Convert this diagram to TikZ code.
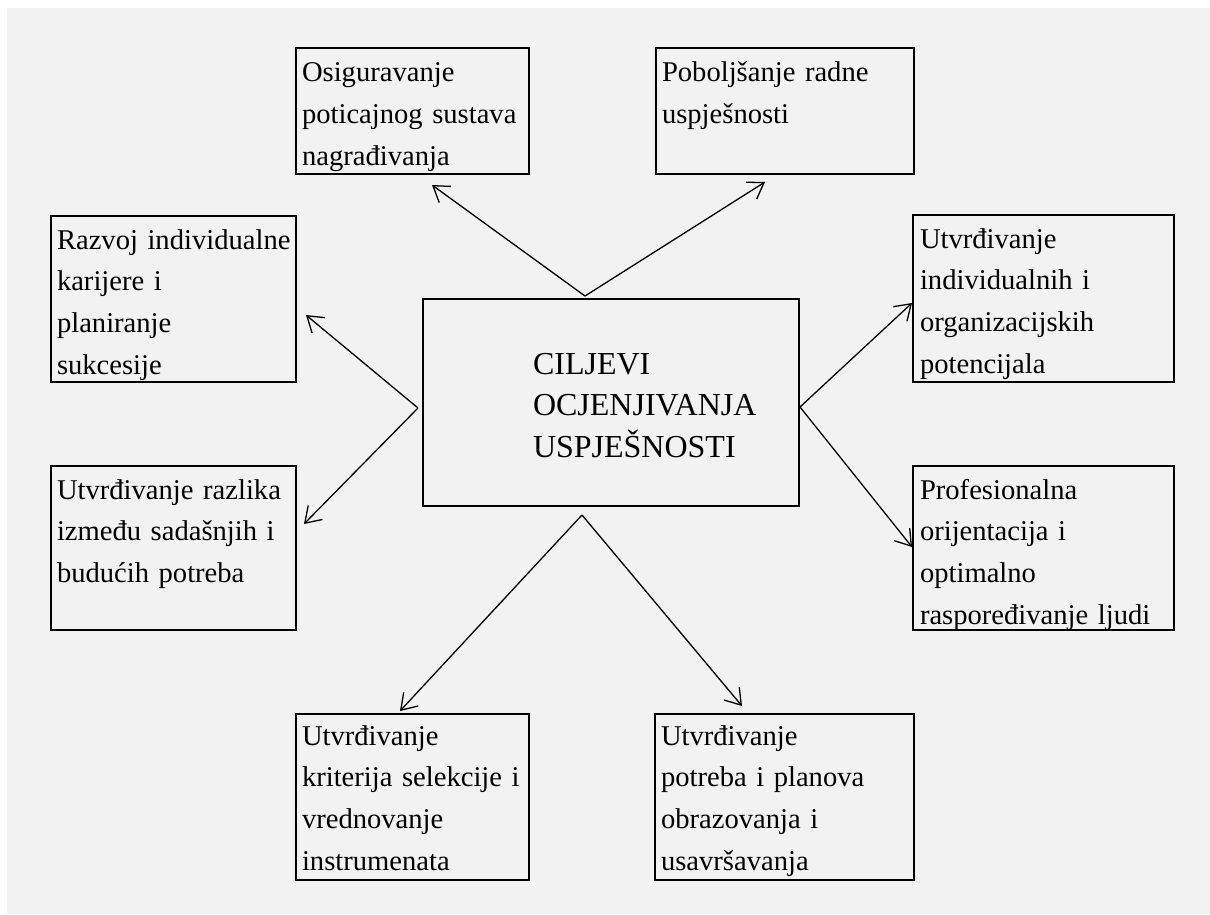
\documentclass[tikz,border=0pt]{standalone}
\usepackage{fontspec}
\setmainfont{Liberation Serif}
\usetikzlibrary{arrows.meta}
\definecolor{bgc}{HTML}{F2F2F2}
\newcommand\firststrut{\rule{0pt}{24pt}}
\tikzset{
  box/.style={draw=black, line width=1.7pt, inner sep=0pt, outer sep=0pt, anchor=north west},
  txt/.style={anchor=north west, inner sep=0pt, outer sep=0pt, align=left, text width=300pt,
              font=\fontsize{28.6}{41.7}\selectfont},
  ctxt/.style={anchor=north west, inner sep=0pt, outer sep=0pt, align=left, text width=300pt,
              font=\fontsize{32}{41.5}\selectfont},
  arr/.style={-{Straight Barb[length=15pt,width=20pt]}, line width=1.3pt}
}
\begin{document}
\begin{tikzpicture}[x=1pt,y=-1pt]
\useasboundingbox (0,0) rectangle (1210,915);
\fill[white] (0,0) rectangle (1210,915);
\fill[bgc] (7,8) rectangle (1210,914);

% boxes
\node[box, minimum width=233pt, minimum height=126pt] (osig)    at (296,48)  {};
\node[box, minimum width=258pt, minimum height=126pt] (pobol)   at (656,48)  {};
\node[box, minimum width=245pt, minimum height=166pt] (razvoj)  at (51,216)  {};
\node[box, minimum width=245pt, minimum height=164pt] (razlika) at (51,466)  {};
\node[box, minimum width=376pt, minimum height=207pt] (center)  at (423,299) {};
\node[box, minimum width=261pt, minimum height=167pt] (pot)     at (913,215) {};
\node[box, minimum width=261pt, minimum height=164pt] (prof)    at (913,466) {};
\node[box, minimum width=233pt, minimum height=166pt] (krit)    at (296,714) {};
\node[box, minimum width=259pt, minimum height=166pt] (obraz)   at (655,714) {};

% texts
\node[txt] (tosig) at ([shift={(6,10)}]osig.north west)
  {\firststrut Osiguravanje\\poticajnog sustava\\nagrađivanja};
\node[txt] (tpobol) at ([shift={(6,10)}]pobol.north west)
  {\firststrut Poboljšanje radne\\uspješnosti};
\node[txt] (trazvoj) at ([shift={(6,9)}]razvoj.north west)
  {\firststrut Razvoj individualne\\karijere i\\planiranje\\sukcesije};
\node[txt] (trazlika) at ([shift={(6,9)}]razlika.north west)
  {\firststrut Utvrđivanje razlika\\između sadašnjih i\\budućih potreba};
\node[ctxt] (tcenter) at (533,350)
  {\firststrut CILJEVI\\OCJENJIVANJA\\USPJEŠNOSTI};
\node[txt] (tpot) at ([shift={(7,9)}]pot.north west)
  {\firststrut Utvrđivanje\\individualnih i\\organizacijskih\\potencijala};
\node[txt] (tprof) at ([shift={(7,9)}]prof.north west)
  {\firststrut Profesionalna\\orijentacija i\\optimalno\\raspoređivanje ljudi};
\node[txt] (tkrit) at ([shift={(6,7)}]krit.north west)
  {\firststrut Utvrđivanje\\kriterija selekcije i\\vrednovanje\\instrumenata};
\node[txt] (tobraz) at ([shift={(6,7)}]obraz.north west)
  {\firststrut Utvrđivanje\\potreba i planova\\obrazovanja i\\usavršavanja};

% arrow end points
\coordinate (aT) at (585,296);
\coordinate (aL) at (418,408);
\coordinate (aR) at (800,407);
\coordinate (aB) at (582,515);
\coordinate (eOsig) at (432,185);
\coordinate (ePobol) at (765,182);
\coordinate (eRazvoj) at (306,315);
\coordinate (eRazlika) at (304,524);
\coordinate (ePot) at (912,303);
\coordinate (eProf) at (912,547);
\coordinate (eKrit) at (400,711);
\coordinate (eObraz) at (742,706);

\draw[arr] (aT) -- (eOsig);
\draw[arr] (aT) -- (ePobol);
\draw[arr] (aL) -- (eRazvoj);
\draw[arr] (aL) -- (eRazlika);
\draw[arr] (aR) -- (ePot);
\draw[arr] (aR) -- (eProf);
\draw[arr] (aB) -- (eKrit);
\draw[arr] (aB) -- (eObraz);
\end{tikzpicture}
\end{document}
